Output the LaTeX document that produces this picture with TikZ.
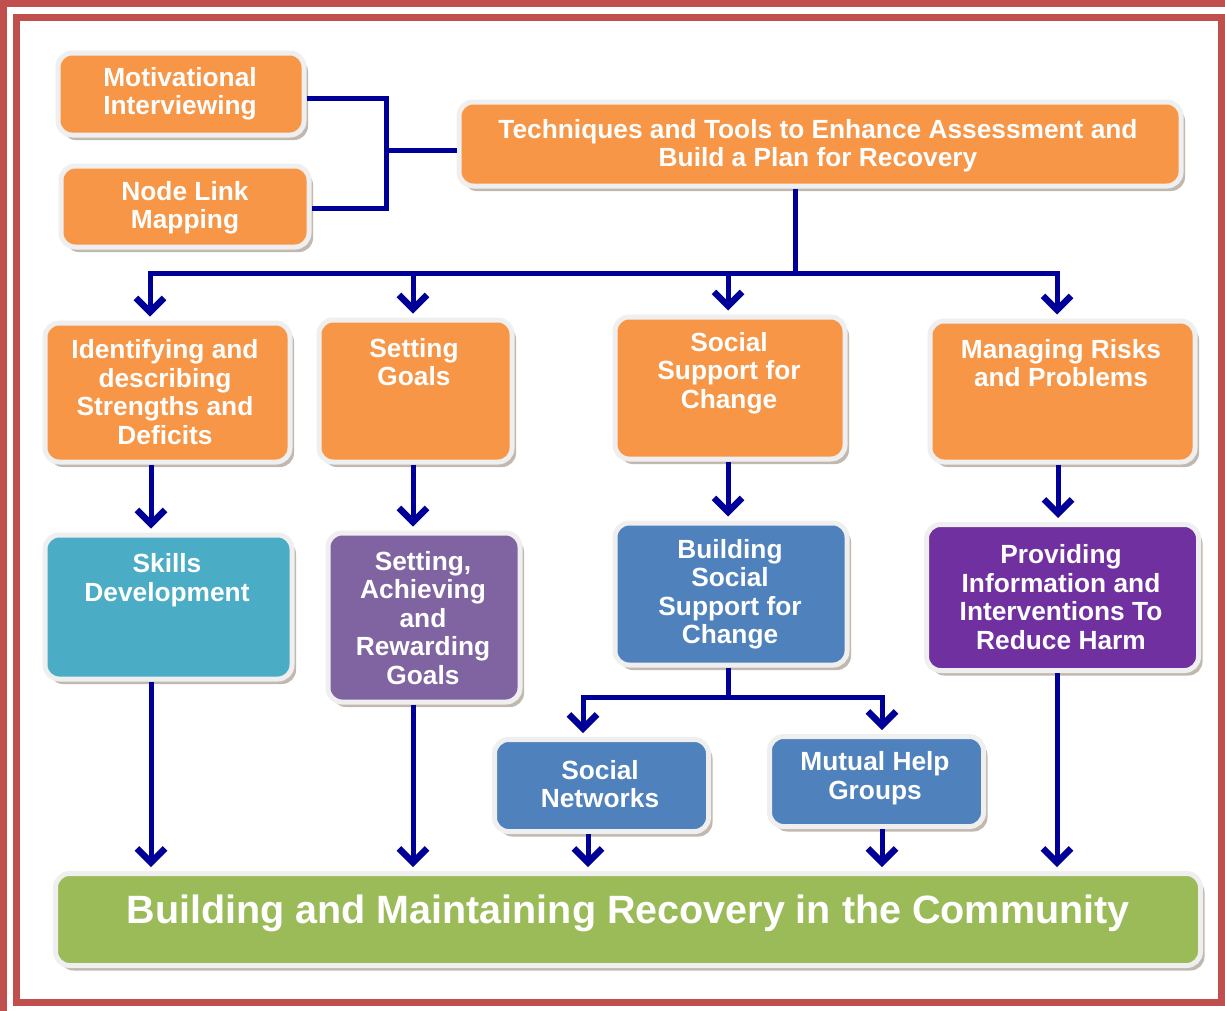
\documentclass[tikz,border=0pt]{standalone}
\usepackage{fontspec}
\setmainfont{Liberation Sans}
\usetikzlibrary{arrows.meta,shadows}

\definecolor{boxorange}{HTML}{F79646}
\definecolor{boxteal}{HTML}{4BACC6}
\definecolor{boxlilac}{HTML}{8064A2}
\definecolor{boxblue}{HTML}{4F81BD}
\definecolor{boxviolet}{HTML}{7030A0}
\definecolor{boxgreen}{HTML}{9BBB59}
\definecolor{linknavy}{HTML}{000099}
\definecolor{framered}{HTML}{C0504D}
\definecolor{rimgray}{HTML}{EFEFEF}

\begin{document}
\begin{tikzpicture}[x=1pt,y=-1pt,
  box/.style={draw=rimgray, line width=5pt, rounded corners=14pt, inner sep=0pt,
    drop shadow={shadow xshift=4pt, shadow yshift=-5pt, fill=black!60!brown, opacity=0.35}},
  txt/.style={text=white, font=\fontsize{26.3}{28.5}\selectfont\bfseries, align=center, inner sep=0pt, yshift=-3pt},
  bigtxt/.style={text=white, font=\fontsize{39.5}{44}\selectfont\bfseries, align=center, inner sep=0pt, yshift=-3pt},
  link/.style={draw=linknavy, line width=5pt},
  arrow/.style={link, -{Straight Barb[length=14pt,width=28pt,line width=6.5pt]}, shorten >=4pt},
  frame/.style={draw=framered, line width=7pt}
]
\useasboundingbox (0,0) rectangle (1225,1010);
\clip (0,0) rectangle (1225,1010);

% double red frame
\draw[frame] (3.5,3.5) rectangle (1260,1040);
\draw[frame] (16.5,17.5) rectangle (1221.5,1002);

% boxes
\node[box, fill=boxorange, minimum width=246pt, minimum height=82pt] (mi) at (181,94) {};
\node[box, fill=boxorange, minimum width=248pt, minimum height=81pt] (nlm) at (185,206.5) {};
\node[box, fill=boxorange, minimum width=722pt, minimum height=84pt] (tech) at (820,144) {};

\node[box, fill=boxorange, minimum width=245pt, minimum height=139pt] (ident) at (167.5,392.5) {};
\node[box, fill=boxorange, minimum width=193pt, minimum height=142pt] (setg) at (415.5,391) {};
\node[box, fill=boxorange, minimum width=230pt, minimum height=142pt] (socs) at (730,388) {};
\node[box, fill=boxorange, minimum width=265pt, minimum height=141pt] (risk) at (1062.5,391.5) {};

\node[box, fill=boxteal, minimum width=247pt, minimum height=144pt] (skill) at (168.5,607) {};
\node[box, fill=boxlilac, minimum width=192pt, minimum height=169pt] (seta) at (424,617.5) {};
\node[box, fill=boxblue, minimum width=232pt, minimum height=142pt] (build) at (731,594) {};
\node[box, fill=boxviolet, minimum width=272pt, minimum height=146pt] (prov) at (1062.5,597.5) {};

\node[box, fill=boxblue, minimum width=214pt, minimum height=92pt] (snet) at (601.5,785.5) {};
\node[box, fill=boxblue, minimum width=214pt, minimum height=90pt] (mutual) at (876.5,781.5) {};

\node[box, fill=boxgreen, minimum width=1145pt, minimum height=92pt] (comm) at (628,919.5) {};

% labels
\node[txt] (tmi) at (180,91) {Motivational\\Interviewing};
\node[txt] (tnlm) at (185,205) {Node Link\\Mapping};
\node[txt] (ttech) at (818,142.5) {Techniques and Tools to Enhance Assessment and\\Build a Plan for Recovery};
\node[txt] (tident) at (165,389) {Identifying and\\describing\\Strengths and\\Deficits};
\node[txt] (tsetg) at (414,359) {Setting\\Goals};
\node[txt] (tsocs) at (729,370) {Social\\Support for\\Change};
\node[txt] (trisk) at (1061,360) {Managing Risks\\and Problems};
\node[txt] (tskill) at (167,577) {Skills\\Development};
\node[txt] (tseta) at (423,615) {Setting,\\Achieving\\and\\Rewarding\\Goals};
\node[txt] (tbuild) at (730,591) {Building\\Social\\Support for\\Change};
\node[txt] (tprov) at (1061,594) {Providing\\Information and\\Interventions To\\Reduce Harm};
\node[txt] (tsnet) at (600,781) {Social\\Networks};
\node[txt] (tmutual) at (875,775) {Mutual Help\\Groups};
\node[bigtxt] (tcomm) at (628,910) {Building and Maintaining Recovery in the Community};

% bracket joining the two techniques to the main box
\coordinate (jn) at (386,150);
\draw[link] ([yshift=-4pt]mi.east) -| (jn) |- ([yshift=-1.5pt]nlm.east);
\draw[link] (jn) -- (jn -| tech.west);

% distribution bus below the main box
\coordinate (bus) at (795,273);
\draw[link] (bus |- tech.south) -- (bus);
\draw[arrow] (bus) -| ([xshift=-17.5pt]ident.north);
\draw[arrow] (bus) -| ([xshift=-2.5pt]setg.north);
\draw[arrow] (bus) -| ([xshift=-2pt]socs.north);
\draw[arrow] (bus) -| ([xshift=-5.5pt]risk.north);

% second row to third row
\draw[arrow] (151,0 |- ident.south) -- (151,0 |- skill.north);
\draw[arrow] (413,0 |- setg.south) -- (413,0 |- seta.north);
\draw[arrow] (728,0 |- socs.south) -- (728,0 |- build.north);
\draw[arrow] (1058,0 |- risk.south) -- (1058,0 |- prov.north);

% split below the building box
\coordinate (split) at (728,697);
\draw[link] (split |- build.south) -- (split);
\draw[arrow] (split) -| (583,0 |- snet.north);
\draw[arrow] (split) -| (882,0 |- mutual.north);

% everything flows into the community bar
\draw[arrow] (151,0 |- skill.south) -- (151,0 |- comm.north);
\draw[arrow] (413,0 |- seta.south) -- (413,0 |- comm.north);
\draw[arrow] (588,0 |- snet.south) -- (588,0 |- comm.north);
\draw[arrow] (882,0 |- mutual.south) -- (882,0 |- comm.north);
\draw[arrow] (1057,0 |- prov.south) -- (1057,0 |- comm.north);
\end{tikzpicture}
\end{document}
